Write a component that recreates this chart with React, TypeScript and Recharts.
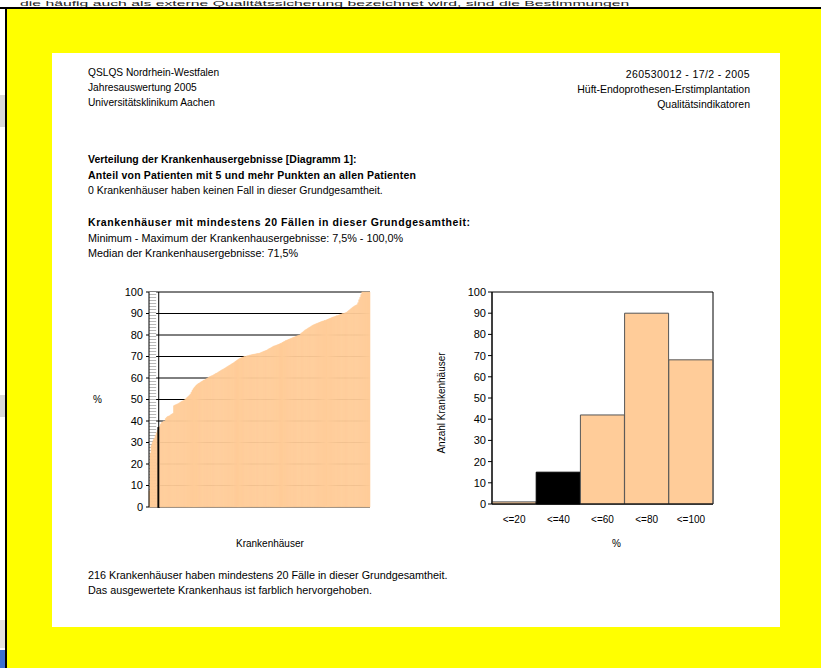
import React from 'react';
import { BarChart, Bar, XAxis, YAxis, CartesianGrid, Cell, ReferenceArea, ReferenceLine } from 'recharts';

// sorted hospital results (%) for 216 hospitals
const hospitalValues: number[] = [
  7.5, 25.0, 28.6, 30.0, 31.3, 32.0, 33.3, 34.5, 35.7, 36.8, 37.5, 38.5, 39.3, 39.5, 40.0, 40.0,
  41.2, 41.7, 42.1, 42.3, 42.5, 42.9, 43.2, 43.5, 47.1, 47.4, 47.6, 47.8, 48.0, 48.3, 48.6, 48.9,
  49.2, 49.4, 49.7, 50.0, 50.5, 51.0, 51.4, 51.9, 52.4, 53.3, 54.2, 55.0, 55.6, 56.2, 56.7, 57.1,
  57.4, 57.7, 58.0, 58.3, 58.6, 58.9, 59.1, 59.4, 59.7, 60.0,
  60.3, 60.6, 60.8, 61.0, 61.2, 61.5, 61.8, 62.1, 62.3, 62.6, 62.9, 63.2, 63.5, 63.8, 64.0, 64.3,
  64.6, 64.9, 65.2, 65.5, 65.8, 66.1, 66.4, 66.7, 67.0, 67.3, 67.7, 68.0, 68.4, 68.7, 69.0, 69.2,
  69.4, 69.6, 69.8, 70.0, 70.0, 70.2, 70.3, 70.4, 70.6, 70.7, 70.8, 70.9, 71.0, 71.1, 71.2, 71.3,
  71.4, 71.4, 71.6, 71.8, 72.0, 72.2, 72.4, 72.6, 72.8, 73.0, 73.3, 73.6, 73.8, 74.1, 74.4, 74.7,
  74.9, 75.0, 75.2, 75.4, 75.6, 75.8, 76.0, 76.2, 76.5, 76.8, 77.0, 77.3, 77.5, 77.7, 77.9, 78.1,
  78.3, 78.5, 78.7, 78.9, 79.1, 79.3, 79.5, 79.7, 79.9, 80.0,
  80.6, 81.0, 81.4, 81.8, 82.2, 82.5, 82.8, 83.1, 83.4, 83.7, 84.0, 84.3, 84.6, 84.8, 85.0, 85.2,
  85.4, 85.6, 85.8, 86.0, 86.2, 86.4, 86.5, 86.7, 86.8, 87.0, 87.2, 87.4, 87.6, 87.8, 88.0, 88.2,
  88.4, 88.5, 88.7, 88.9, 89.0, 89.2, 89.4, 89.6, 89.8, 90.0, 90.0, 90.2, 90.4, 90.6, 91.0, 91.4,
  91.8, 92.2, 92.6, 93.0, 93.3, 93.6, 93.8, 94.1, 95.0, 96.4, 97.5, 98.8, 100, 100, 100, 100,
  100, 100, 100, 100,
];
const highlightIndex = 9;

const histCategories = ['<=20', '<=40', '<=60', '<=80', '<=100'];
const histCounts = [1, 15, 42, 90, 68];
const highlightBin = 1;

const yTicks = [0, 10, 20, 30, 40, 50, 60, 70, 80, 90, 100];

const PEACH = '#FFCC99';
const FONT = '"Liberation Sans", Arial, sans-serif';

const txt = (x: number, y: number, s: string, opts: React.CSSProperties = {}) => (
  <div style={{ position: 'absolute', left: x, top: y, whiteSpace: 'nowrap', lineHeight: '12px', ...opts }}>{s}</div>
);

const App: React.FC = () => {
  const lineData = hospitalValues.map((v, i) => ({ id: i, value: v }));
  const histData = histCategories.map((c, i) => ({ name: c, count: histCounts[i] }));

  return (
    <div style={{ position: 'absolute', left: 0, top: 0, width: 821, height: 668, overflow: 'hidden', background: '#fff', fontFamily: FONT, color: '#000' }}>
      {/* page behind, mostly hidden */}
      <div style={{ position: 'absolute', left: 20, top: 0, fontSize: 7, lineHeight: '7px', color: '#222', whiteSpace: 'nowrap', transformOrigin: '0 0', transform: 'scaleX(2.25)' }}>
        die häufig auch als externe Qualitätssicherung bezeichnet wird, sind die Bestimmungen
      </div>
      <div style={{ position: 'absolute', left: 0, top: 95, width: 6, height: 32, background: '#d8d8d8' }} />
      <div style={{ position: 'absolute', left: 0, top: 395, width: 6, height: 22, background: '#d8d8d8' }} />
      <div style={{ position: 'absolute', left: 0, top: 620, width: 6, height: 28, background: '#e4e2dc' }} />
      <div style={{ position: 'absolute', left: 0, top: 650, width: 6, height: 18, background: '#3b6fd0' }} />
      <div style={{ position: 'absolute', left: 0, top: 7, width: 821, height: 2, background: '#000' }} />
      <div style={{ position: 'absolute', left: 5, top: 7, width: 2, height: 661, background: '#000' }} />
      <div style={{ position: 'absolute', left: 7, top: 9, width: 814, height: 659, background: '#ffff00' }} />

      {/* white sheet */}
      <div style={{ position: 'absolute', left: 52, top: 53, width: 728, height: 574, background: '#fff' }} />

      <div style={{ position: 'absolute', left: 0, top: 0, width: 821, height: 668, fontSize: 10.5 }}>
        {txt(88, 67, 'QSLQS Nordrhein-Westfalen', { fontSize: 10.2 })}
        {txt(88, 82, 'Jahresauswertung 2005', { fontSize: 10.2 })}
        {txt(88, 97, 'Universitätsklinikum Aachen', { fontSize: 10.2 })}
        <div style={{ position: 'absolute', right: 821 - 750, top: 67, textAlign: 'right', lineHeight: '15px' }}>
          <div style={{ letterSpacing: 0.4 }}>260530012 - 17/2 - 2005</div>
          <div>Hüft-Endoprothesen-Erstimplantation</div>
          <div>Qualitätsindikatoren</div>
        </div>
        {txt(88, 153, 'Verteilung der Krankenhausergebnisse [Diagramm 1]:', { fontWeight: 'bold' })}
        {txt(88, 169, 'Anteil von Patienten mit 5 und mehr Punkten an allen Patienten', { fontWeight: 'bold', letterSpacing: 0.2 })}
        {txt(88, 184, '0 Krankenhäuser haben keinen Fall in dieser Grundgesamtheit.')}
        {txt(88, 216, 'Krankenhäuser mit mindestens 20 Fällen in dieser Grundgesamtheit:', { fontWeight: 'bold', letterSpacing: 0.6 })}
        {txt(88, 232, 'Minimum - Maximum der Krankenhausergebnisse: 7,5% - 100,0%', { fontSize: 10.8 })}
        {txt(88, 247, 'Median der Krankenhausergebnisse: 71,5%', { fontSize: 10.8 })}
        {txt(88, 569, '216 Krankenhäuser haben mindestens 20 Fälle in dieser Grundgesamtheit.', { fontSize: 10.8 })}
        {txt(88, 584, 'Das ausgewertete Krankenhaus ist farblich hervorgehoben.', { fontSize: 10.8 })}

        {txt(93, 394, '%', { fontSize: 10 })}
        {txt(236, 538, 'Krankenhäuser', { fontSize: 10 })}
        {txt(612, 538, '%', { fontSize: 10 })}
        <div style={{ position: 'absolute', left: 441, top: 403, transform: 'translate(-50%, -50%) rotate(-90deg)', fontSize: 10, whiteSpace: 'nowrap' }}>
          Anzahl Krankenhäuser
        </div>
      </div>

      {/* left chart: sorted hospital results */}
      <div style={{ position: 'absolute', left: 90, top: 282 }}>
        <BarChart width={290} height={240} data={lineData} margin={{ top: 10, right: 10, left: 0, bottom: 15 }} barCategoryGap={0} barGap={0}>
          <defs>
            <pattern id="stripes" width="4" height="3" patternUnits="userSpaceOnUse">
              <rect width="4" height="3" fill="#fff" />
              <line x1="0" y1="0.5" x2="4" y2="0.5" stroke="#b8b8b8" strokeWidth="1" />
            </pattern>
          </defs>
          <CartesianGrid horizontal vertical={false} stroke="#000" strokeWidth={1} />
          <XAxis dataKey="id" hide />
          <YAxis
            width={59}
            domain={[0, 100]}
            ticks={yTicks}
            interval={0}
            tickSize={3}
            tickMargin={3}
            tick={{ fontSize: 11, fill: '#000', fontFamily: FONT }}
            axisLine={{ stroke: '#000' }}
            tickLine={{ stroke: '#000' }}
          />
          <ReferenceArea x1={0} x2={6} y1={0} y2={100} fill="url(#stripes)" fillOpacity={1} stroke="none" />
          <ReferenceLine x={highlightIndex} stroke="#000" strokeWidth={1} />
          <Bar dataKey="value" isAnimationActive={false}>
            {lineData.map((d, i) => (
              <Cell
                key={d.id}
                fill={i === highlightIndex ? '#000' : PEACH}
                stroke={i === highlightIndex ? '#000' : PEACH}
                strokeWidth={i === highlightIndex ? 1.6 : 0.6}
              />
            ))}
          </Bar>
        </BarChart>
      </div>

      {/* right chart: histogram */}
      <div style={{ position: 'absolute', left: 430, top: 282 }}>
        <BarChart width={300} height={280} data={histData} margin={{ top: 10, right: 17, left: 0, bottom: 38 }} barCategoryGap={0} barGap={0}>
          <XAxis
            dataKey="name"
            height={20}
            tickLine={false}
            tickSize={10}
            tickMargin={2}
            interval={0}
            tick={{ fontSize: 10, fill: '#000', fontFamily: FONT }}
            axisLine={{ stroke: '#000' }}
          />
          <YAxis
            width={62}
            domain={[0, 100]}
            ticks={yTicks}
            interval={0}
            tickSize={4}
            tickMargin={2}
            tick={{ fontSize: 11, fill: '#000', fontFamily: FONT }}
            axisLine={{ stroke: '#000' }}
            tickLine={{ stroke: '#000' }}
          />
          <Bar dataKey="count" isAnimationActive={false} stroke="#555" strokeWidth={1}>
            {histData.map((d, i) => (
              <Cell key={d.name} fill={i === highlightBin ? '#000' : PEACH} stroke={i === highlightBin ? '#000' : '#555'} />
            ))}
          </Bar>
          <ReferenceArea x1="<=20" x2="<=100" y1={0} y2={100} fill="none" stroke="#000" strokeWidth={1} />
        </BarChart>
      </div>
    </div>
  );
};

export default App;
